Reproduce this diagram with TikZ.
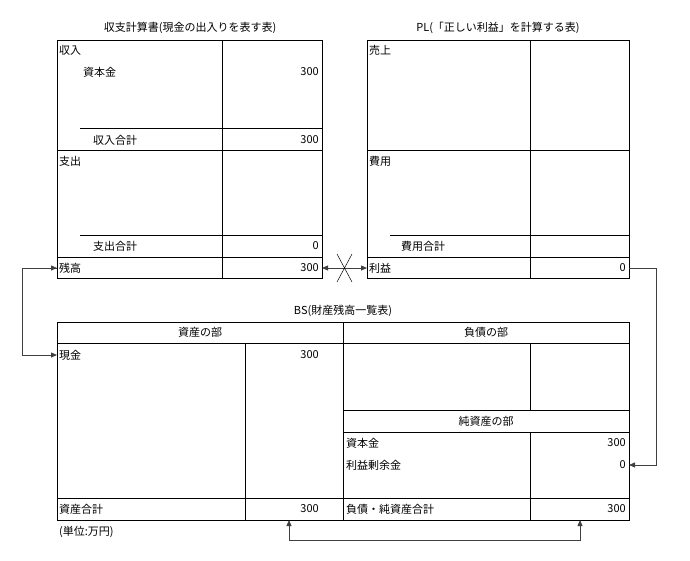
\documentclass[tikz,border=0pt]{standalone}
\usepackage{fontspec}
\setmainfont{Noto Sans CJK JP}[BoldFont={* Bold}]
\usetikzlibrary{arrows.meta}
\begin{document}
\begin{tikzpicture}[x=1pt,y=-1pt,
  ln/.style={line width=0.9pt},
  cn/.style={draw=black!75,line width=0.8pt},
  ar/.style={-{Triangle[length=6pt,width=5pt]}},
  t/.style={font=\fontsize{11}{13}\selectfont,inner sep=1pt}]
\useasboundingbox (0,0) rectangle (690,560);
% left table
\draw[ln] (57,40) rectangle (322,278);
\draw[ln] (222,40) -- (222,278);
\draw[ln] (80,128) -- (322,128);
\draw[ln] (57,150) -- (322,150);
\draw[ln] (80,235) -- (322,235);
\draw[ln] (57,257) -- (322,257);
\node[t] (lt) at (190,28) {収支計算書(現金の出入りを表す表)};
\node[t,anchor=west] (a1) at (58,50) {収入};
\node[t,anchor=west] (a2) at (82,72) {資本金};
\node[t,anchor=east] (a3) at (320,72) {300};
\node[t,anchor=west] (a4) at (92,140) {収入合計};
\node[t,anchor=east] (a5) at (320,140) {300};
\node[t,anchor=west] (a6) at (58,161) {支出};
\node[t,anchor=west] (a7) at (92,246) {支出合計};
\node[t,anchor=east] (a8) at (320,246) {0};
\node[t,anchor=west] (zan) at (58,268) {残高};
\node[t,anchor=east] (zanv) at (320,268) {300};
\coordinate (zr) at (322,268);
\coordinate (zl) at (57,268);
% PL
\draw[ln] (367,40) rectangle (629,278);
\draw[ln] (530,40) -- (530,278);
\draw[ln] (390,235) -- (629,235);
\draw[ln] (367,150) -- (629,150);
\draw[ln] (367,257) -- (629,257);
\node[t] (pt) at (498,28) {PL(「正しい利益」を計算する表)};
\node[t,anchor=west] (b1) at (368,50) {売上};
\node[t,anchor=west] (b2) at (368,161) {費用};
\node[t,anchor=west] (b3) at (400,246) {費用合計};
\node[t,anchor=west] (rie) at (368,268) {利益};
\node[t,anchor=east] (riev) at (627,268) {0};
\coordinate (pl) at (367,268);
\coordinate (pr) at (629,268);
\draw[cn,{Triangle[length=6pt,width=5pt]}-{Triangle[length=6pt,width=5pt]}] (zr) -- (pl);
\draw[line width=0.5pt] (337,254) -- (352,282) (352,254) -- (337,282);
% BS
\node[t] (bt) at (343,311) {BS(財産残高一覧表)};
\draw[ln] (57,322) rectangle (629,520);
\draw[ln] (57,343) -- (629,343);
\draw[ln] (343,322) -- (343,520);
\draw[ln] (245,343) -- (245,520);
\draw[ln] (530,343) -- (530,410);
\draw[ln] (343,410) -- (629,410);
\draw[ln] (343,432) -- (629,432);
\draw[ln] (530,432) -- (530,520);
\draw[ln] (57,498) -- (629,498);
\node[t] (h1) at (200,332) {資産の部};
\node[t] (h2) at (486,332) {負債の部};
\node[t] (h3) at (486,421) {純資産の部};
\node[t,anchor=west] (gen) at (58,355) {現金};
\node[t,anchor=east] (genv) at (320,355) {300};
\node[t,anchor=west] (c1) at (345,443) {資本金};
\node[t,anchor=east] (c2) at (627,443) {300};
\node[t,anchor=west] (c3) at (345,465) {利益剰余金};
\node[t,anchor=east] (rj) at (627,465) {0};
\node[t,anchor=west] (c5) at (58,509) {資産合計};
\node[t,anchor=east] (c6) at (320,509) {300};
\node[t,anchor=west] (c7) at (345,509) {負債・純資産合計};
\node[t,anchor=east] (c8) at (627,509) {300};
\node[t,anchor=west] (unit) at (58,532) {(単位:万円)};
\coordinate (gl) at (57,355);
\coordinate (rjr) at (629,465);
\coordinate (u1) at (289,520);
\coordinate (u2) at (580,520);
\draw[cn,ar] (zl) -- (22,268) -- (22,355) -- (gl);
\draw[cn,ar] (22,268) -- (zl);
\draw[cn,ar] (pr) -- (656,268) |- (rjr);
\draw[cn,{Triangle[length=6pt,width=5pt]}-{Triangle[length=6pt,width=5pt]}] (u1) -- (289,540) -- (580,540) -- (u2);
\end{tikzpicture}
\end{document}
